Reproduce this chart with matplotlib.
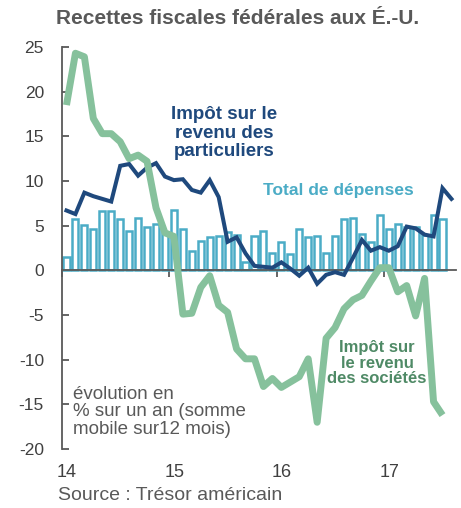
import numpy as np
import matplotlib.pyplot as plt
import matplotlib.transforms as mtransforms

plt.rcParams['font.family'] = ['Liberation Sans', 'DejaVu Sans']
plt.rcParams['axes.unicode_minus'] = False

# monthly data, Jan 2014 onwards (% yoy, 12-month moving sum)
years = ['14', '15', '16', '17']
depenses = [1.5, 5.7, 5.1, 4.6, 6.7, 6.6, 5.8, 4.4, 5.9, 4.9, 5.2, 4.3,
            6.8, 4.6, 2.2, 3.3, 3.7, 3.9, 4.3, 4.0, 0.9, 3.9, 4.4, 1.9,
            3.2, 1.8, 4.6, 3.7, 3.9, 1.9, 3.8, 5.7, 5.9, 4.1, 3.2, 6.2,
            4.6, 5.2, 4.9, 4.8, 4.0, 6.2, 5.7]
particuliers = [6.7, 6.3, 8.7, 8.3, 8.0, 7.7, 11.7, 11.9, 10.6, 11.5, 12.0, 10.5,
                10.1, 10.2, 9.0, 8.7, 10.1, 8.2, 3.2, 3.7, 1.9, 0.5, 0.4, 0.3,
                0.9, 0.2, -0.6, 0.3, -1.5, -0.5, -0.2, -0.5, 1.4, 3.4, 2.2, 2.6,
                2.2, 2.7, 4.9, 4.7, 4.0, 3.8, 9.2, 8.0]
societes = [18.5, 24.3, 23.9, 17.0, 15.3, 15.3, 14.4, 12.5, 12.9, 12.2, 7.0, 4.2,
            3.8, -4.9, -4.8, -1.9, -0.6, -3.9, -4.7, -8.8, -9.9, -9.9, -13.0, -12.1,
            -13.1, -12.5, -11.9, -9.9, -17.0, -7.6, -6.4, -4.3, -3.3, -2.8, -1.2, 0.3,
            0.3, -2.4, -1.7, -5.1, -0.9, -14.7, -16.2]

gray = '#595959'
c_bar = '#4BACC6'
c_blue = '#1F497D'
c_green = '#86C19C'

fig = plt.figure(figsize=(4.61, 5.08), dpi=100)
ax = fig.add_axes([0.1345, 0.116, 0.8545, 0.7915])

ax.bar(np.arange(len(depenses)) + 0.5, depenses, width=0.68, color='white',
       edgecolor=c_bar, linewidth=1.8, zorder=2)
ax.plot(np.arange(len(particuliers)) + 0.5, particuliers, color=c_blue, lw=2.9,
        solid_joinstyle='miter', zorder=3)
ax.plot(np.arange(len(societes)) + 0.5, societes, color=c_green, lw=5.0,
        solid_joinstyle='round', solid_capstyle='butt', zorder=4)

ax.set_xlim(0, 44)
ax.set_ylim(-20, 25)
ax.spines['top'].set_visible(False)
ax.spines['right'].set_visible(False)
ax.spines['bottom'].set_position(('data', 0))
for s in ['left', 'bottom']:
    ax.spines[s].set_color(gray)
    ax.spines[s].set_linewidth(1.3)
ax.spines['bottom'].set_zorder(2.5)

ax.set_yticks(range(-20, 26, 5))
ax.tick_params(axis='y', direction='in', length=5, width=1.3, color=gray,
               labelsize=12.5, labelcolor='#404040', pad=13)
ax.set_xticks([12 * i for i in range(len(years))])
ax.tick_params(axis='x', direction='out', length=5, width=1.3, color=gray,
               labelbottom=False)

trans = mtransforms.blended_transform_factory(ax.transData, ax.transAxes)
for i, y in enumerate(years):
    ax.text(12 * i + 0.55, -0.058, y, transform=trans, ha='center', va='center',
            fontsize=13, color='#404040')

fig.text(238 / 461, 1 - 18 / 508, 'Recettes fiscales fédérales aux É.-U.',
         ha='center', va='center', fontsize=15, fontweight='bold', color=gray)
fig.text(224 / 461, 1 - 133 / 508, 'Impôt sur le\nrevenu des\nparticuliers',
         ha='center', va='center', fontsize=13.5, fontweight='bold',
         color=c_blue, linespacing=1.1)
fig.text(338 / 461, 1 - 190 / 508, 'Total de dépenses', ha='center', va='center',
         fontsize=12.5, fontweight='bold', color=c_bar)
fig.text(377 / 461, 1 - 363 / 508, 'Impôt sur\nle revenu\ndes sociétés',
         ha='center', va='center', fontsize=12, fontweight='bold',
         color='#4F8A66', linespacing=1.05)
fig.text(73 / 461, 1 - 412 / 508,
         'évolution en\n% sur un an (somme\nmobile sur12 mois)',
         ha='left', va='center', fontsize=13.5, color=gray, linespacing=1.05)
fig.text(58 / 461, 1 - 495 / 508, 'Source : Trésor américain', ha='left',
         va='center', fontsize=14, color=gray)

fig.savefig('out.png', dpi=100)
